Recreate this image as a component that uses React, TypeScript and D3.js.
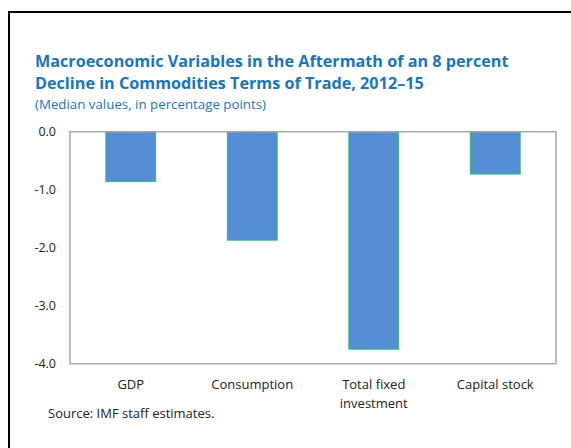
// @ts-nocheck
import React, { useEffect, useRef } from "react";
import * as d3 from "d3";

const categories = ["GDP", "Consumption", "Total fixed investment", "Capital stock"];
const values = [-0.86, -1.87, -3.75, -0.73];
const yTicks = [0, -1, -2, -3, -4];
const labelLines = [["GDP"], ["Consumption"], ["Total fixed", "investment"], ["Capital stock"]];

function App() {
  const ref = useRef(null);

  useEffect(() => {
    const svg = d3.select(ref.current);
    svg.selectAll("*").remove();

    const W = 571, H = 448;
    const margin = { top: 131.7, right: 15, bottom: 84.3, left: 70 };
    const font = "'Open Sans', 'Noto Sans', sans-serif";

    svg.append("rect").attr("width", W).attr("height", H).attr("fill", "#fff");

    // outer frame (cropped on the right and bottom)
    svg
      .append("path")
      .attr("d", `M9,${H + 5}V12H${W + 5}`)
      .attr("fill", "none")
      .attr("stroke", "#000")
      .attr("stroke-width", 2);

    // titles
    const title = svg
      .append("text")
      .attr("x", 35)
      .attr("fill", "#1a75bc")
      .style("font-family", font)
      .style("font-weight", 700)
      .style("font-size", "16.2px");
    title.append("tspan").attr("x", 35).attr("y", 67).text("Macroeconomic Variables in the Aftermath of an 8 percent");
    title.append("tspan").attr("x", 35).attr("y", 89).text("Decline in Commodities Terms of Trade, 2012–15");

    svg
      .append("text")
      .attr("x", 35)
      .attr("y", 109)
      .attr("fill", "#1a75bc")
      .style("font-family", font)
      .style("font-size", "13.3px")
      .text("(Median values, in percentage points)");

    const x = d3
      .scaleBand()
      .domain(categories)
      .range([margin.left, W - margin.right])
      .paddingInner(0.59)
      .paddingOuter(0.295);

    const y = d3.scaleLinear().domain([-4, 0]).range([H - margin.bottom, margin.top]);

    // bars
    svg
      .selectAll(".bar")
      .data(values)
      .enter()
      .append("rect")
      .attr("class", "bar")
      .attr("x", (d, i) => x(categories[i]))
      .attr("width", x.bandwidth())
      .attr("y", y(0))
      .attr("height", (d) => y(d) - y(0))
      .attr("fill", "#558ed5")
      .attr("stroke", "#2ebd73")
      .attr("stroke-width", 1);

    // plot border
    svg
      .append("rect")
      .attr("x", margin.left)
      .attr("y", margin.top)
      .attr("width", W - margin.right - margin.left)
      .attr("height", H - margin.bottom - margin.top)
      .attr("fill", "none")
      .attr("stroke", "#a6a6a6")
      .attr("stroke-width", 1.5);

    // y tick labels
    svg
      .selectAll(".ytick")
      .data(yTicks)
      .enter()
      .append("text")
      .attr("class", "ytick")
      .attr("x", 56)
      .attr("y", (d) => y(d))
      .attr("dy", "0.35em")
      .attr("text-anchor", "end")
      .attr("fill", "#222")
      .style("font-family", font)
      .style("font-size", "12.5px")
      .text((d) => d3.format(".1f")(d).replace("−", "-"));

    // category labels
    const cat = svg
      .selectAll(".cat")
      .data(labelLines)
      .enter()
      .append("text")
      .attr("class", "cat")
      .attr("text-anchor", "middle")
      .attr("fill", "#222")
      .style("font-family", font)
      .style("font-size", "13px");
    cat
      .selectAll("tspan")
      .data((d, i) => d.map((t) => ({ t, c: categories[i] })))
      .enter()
      .append("tspan")
      .attr("x", (d) => x(d.c) + x.bandwidth() / 2)
      .attr("y", (d, j) => 389 + j * 19)
      .text((d) => d.t);

    svg
      .append("text")
      .attr("x", 48)
      .attr("y", 418)
      .attr("fill", "#222")
      .style("font-family", font)
      .style("font-size", "13px")
      .text("Source: IMF staff estimates.");
  }, []);

  return (
    <svg
      ref={ref}
      width={571}
      height={448}
      style={{ position: "absolute", left: 0, top: 0 }}
    />
  );
}

export default App;
